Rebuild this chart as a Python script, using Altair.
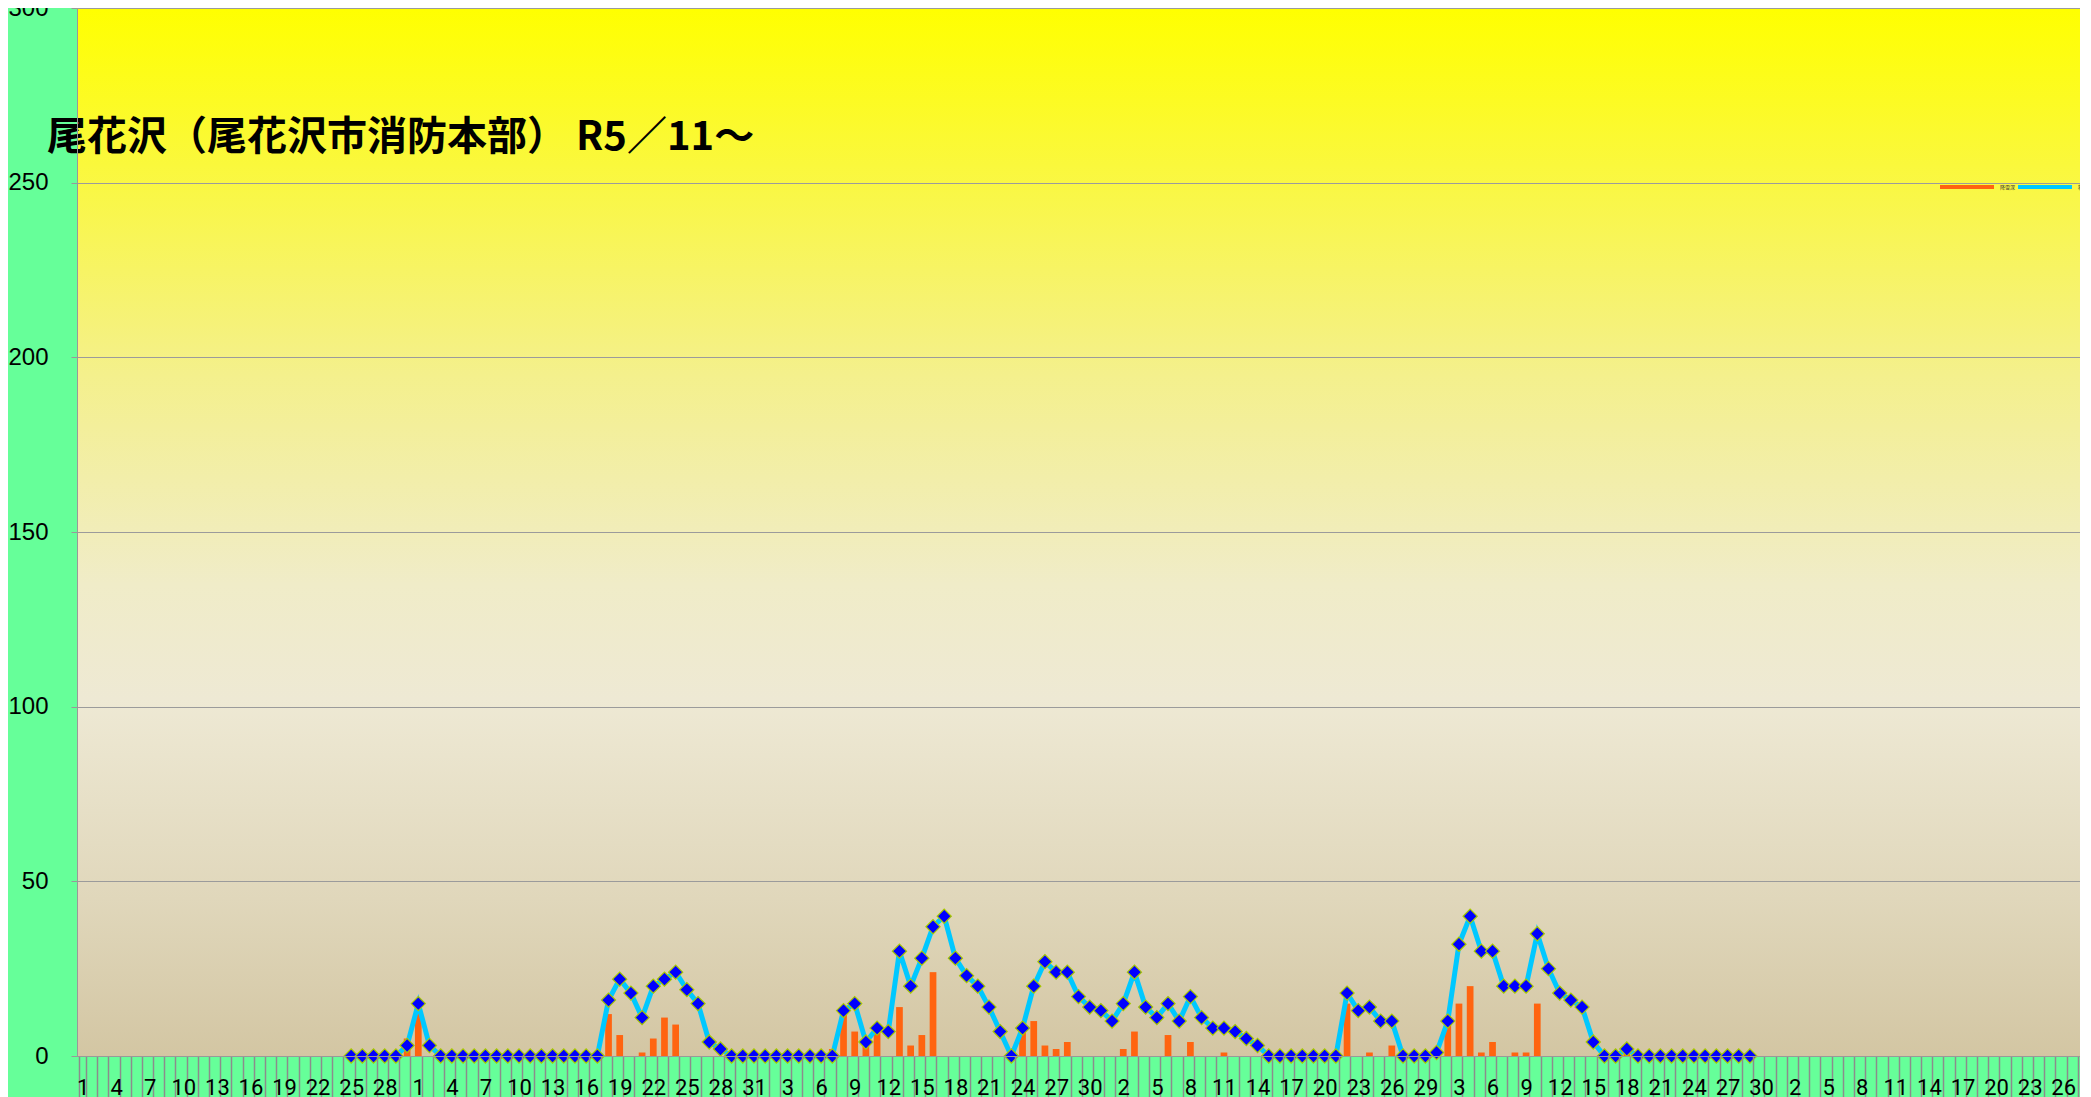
import json
import altair as alt
import pandas as pd

# ---- categories (days from 2023-11-01) ----
start_date = "2023-11-01"
n_days = 179
dates = pd.date_range(start_date, periods=n_days, freq="D")
day_labels = [str(d.day) for d in dates]

# ---- series (first value is 2023-11-25, category index 24) ----
first_index = 24
snow_depth = [
    0, 0, 0, 0, 0,
    3, 15, 3, 0,
    0, 0, 0, 0, 0, 0, 0, 0, 0, 0, 0, 0, 0, 0,
    16, 22, 18, 11, 20, 22, 24, 19, 15, 4, 2,
    0, 0, 0, 0, 0, 0, 0, 0, 0, 0,
    13, 15, 4, 8, 7, 30, 20, 28, 37, 40, 28, 23, 20, 14, 7,
    0, 8, 20, 27, 24, 24, 17, 14, 13, 10, 15, 24, 14, 11, 15, 10, 17, 11, 8, 8, 7, 5, 3,
    0, 0, 0, 0, 0, 0, 0,
    18, 13, 14, 10, 10,
    0, 0, 0,
    1, 10, 32, 40, 30, 30, 20, 20, 20, 35, 25, 18, 16, 14, 4, 0, 0, 2,
    0, 0, 0, 0, 0, 0, 0, 0, 0, 0, 0,
]
snowfall = [
    0, 0, 0, 0, 0,
    5, 12, 0, 0,
    0, 0, 0, 0, 0, 0, 0, 0, 0, 0, 0, 0, 0, 0,
    12, 6, 0, 1, 5, 11, 9, 0, 0, 0, 0,
    0, 0, 0, 0, 0, 0, 0, 0, 0, 2,
    12, 7, 4, 7, 0, 14, 3, 6, 24, 0, 0, 0, 0, 0, 0,
    0, 7, 10, 3, 2, 4, 0, 0, 0, 0, 2, 7, 0, 0, 6, 0, 4, 0, 0, 1, 0, 0, 0,
    0, 0, 0, 0, 0, 0, 0,
    15, 0, 1, 0, 3,
    0, 0, 0,
    0, 9, 15, 20, 1, 4, 0, 1, 1, 15, 0, 0, 0, 0, 0, 0, 0, 1,
    0, 0, 0, 0, 0, 0, 0, 0, 0, 0, 0,
]
series_names = ["降雪深", "積雪深"]
series_colors = ["#FF6410", "#00C8FF"]
title_text = "尾花沢（尾花沢市消防本部） R5／11～"
y_ticks = [0, 50, 100, 150, 200, 250, 300]

df = pd.DataFrame({
    "i": list(range(first_index, first_index + len(snow_depth))),
    "depth": snow_depth,
    "fall": snowfall,
})

W = 2003
H = 1048

label_expr = "datum.value % 3 == 0 ? " + json.dumps(day_labels) + "[datum.value] : ''"

color_scale = alt.Scale(domain=series_names, range=series_colors)
legend = alt.Legend(
    orient="none", legendX=1861, legendY=150, direction="horizontal",
    title=None, symbolType="stroke", symbolSize=2916, symbolStrokeWidth=4,
    labelFontSize=5, labelFont="Noto Sans CJK JP", labelOffset=4,
    columnPadding=-6, padding=0, labelColor="#333333",
)

x_enc = alt.X(
    "i:O",
    scale=alt.Scale(type="band", domain=list(range(n_days)), paddingInner=0.4, paddingOuter=0.2),
    axis=alt.Axis(
        title=None, labelExpr=label_expr, labelAngle=0, labelOverlap=False,
        labelFont="Roboto", labelFontSize=22, labelColor="black",
        tickBand="extent", tickSize=45, tickColor="#8C8C8C", tickWidth=1.5,
        labelPadding=-24, domainColor="#999999", grid=False, zindex=1,
    ),
)
y_scale = alt.Scale(domain=[0, 300], nice=False, zero=True)
y_axis = alt.Axis(
    title=None, values=y_ticks, labelFont="Liberation Sans", labelFontSize=24,
    labelColor="black", tickSize=6, tickColor="#999999", labelPadding=23,
    domainColor="#999999", gridColor="#9B9B9B", gridWidth=1, zindex=1,
)

bg = alt.Chart(pd.DataFrame({"a": [0]})).mark_rect(
    color=alt.Gradient(
        gradient="linear", x1=0, x2=0, y1=0, y2=1,
        stops=[
            alt.GradientStop(color="#FFFF00", offset=0),
            alt.GradientStop(color="#FAF83C", offset=0.15),
            alt.GradientStop(color="#F4F08C", offset=0.35),
            alt.GradientStop(color="#F0ECC8", offset=0.55),
            alt.GradientStop(color="#EEE9D4", offset=0.66),
            alt.GradientStop(color="#E0D7BB", offset=0.85),
            alt.GradientStop(color="#D3C6A3", offset=1),
        ],
    )
).encode(x=alt.value(0), x2=alt.value(W), y=alt.value(0), y2=alt.value(H))

base = alt.Chart(df)

bars = base.transform_filter("datum.fall > 0").transform_calculate(s="'降雪深'").mark_bar().encode(
    x=x_enc,
    y=alt.Y("fall:Q", scale=y_scale, axis=y_axis),
    color=alt.Color("s:N", scale=color_scale, legend=legend),
)

line = base.transform_calculate(s="'積雪深'").mark_line(strokeWidth=5).encode(
    x=x_enc,
    y=alt.Y("depth:Q", scale=y_scale, axis=y_axis),
    color=alt.Color("s:N", scale=color_scale, legend=legend),
)

points = base.mark_point(
    shape="diamond", filled=True, fill="#0000FF", stroke="#A8C800",
    strokeWidth=1.2, size=200, opacity=1,
).encode(
    x=x_enc,
    y=alt.Y("depth:Q", scale=y_scale, axis=y_axis),
)

title = alt.Chart(pd.DataFrame({"t": [title_text]})).mark_text(
    align="left", baseline="middle", font="Noto Sans CJK JP", fontSize=40,
    fontWeight="bold", color="black",
).encode(x=alt.value(-30), y=alt.value(130), text="t:N")

chart = alt.layer(bg, bars, line, points, title).properties(
    width=W, height=H,
    autosize=alt.AutoSizeParams(type="none"),
    padding={"left": 69, "top": 0, "right": 0, "bottom": 41},
    background="#66FF99",
).configure_view(strokeWidth=0)

chart.save("out.html", embed_options={"renderer": "svg", "actions": False})
